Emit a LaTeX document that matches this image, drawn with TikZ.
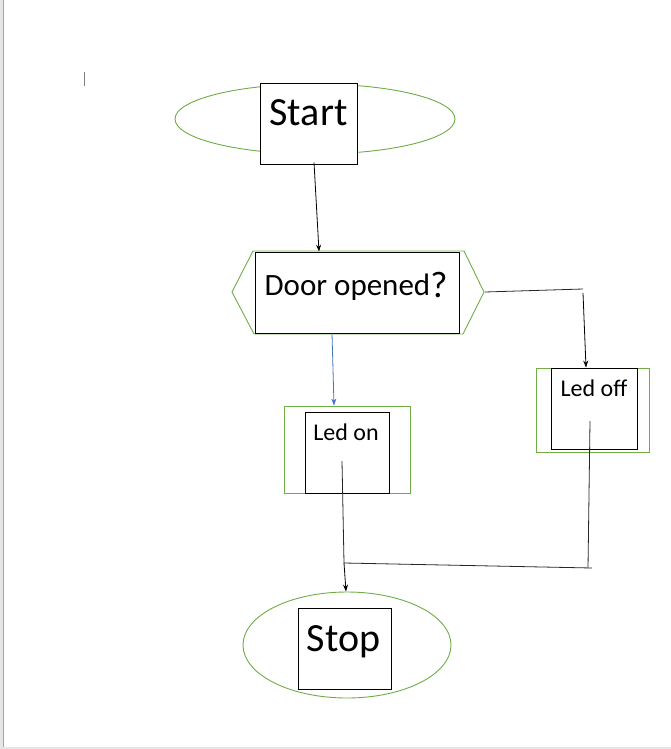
\documentclass[tikz,border=0pt]{standalone}
\usepackage{fontspec}
\setmainfont{Carlito}
\usetikzlibrary{shapes.geometric,arrows.meta}
\definecolor{ogreen}{HTML}{70AD47}
\definecolor{oblue}{HTML}{4472C4}
\definecolor{edge}{gray}{.9}

\begin{document}
\begin{tikzpicture}[x=1pt,y=-1pt]
\tikzset{
 box/.style={draw=black, line width=0.85pt, fill=white, inner sep=0pt},
 oval/.style={ellipse, draw=ogreen, line width=0.9pt, fill=white, inner sep=0pt},
 frame/.style={draw=ogreen, line width=0.9pt, inner sep=0pt},
 big/.style={font=\fontsize{40}{48}\selectfont, anchor=base, inner sep=0pt},
 mid/.style={font=\fontsize{31}{37}\selectfont, anchor=base, inner sep=0pt},
 small/.style={font=\fontsize{24}{29}\selectfont, anchor=base, inner sep=0pt},
 link/.style={line width=0.8pt, -{Stealth[length=7pt,width=5pt]}},
 wire/.style={line width=0.8pt, black!85}
}
\useasboundingbox (0,0) rectangle (671,749);
% page edge
\fill[edge] (0,0) rectangle (3,749);
\draw[gray!70, line width=0.8pt] (3.5,0) -- (3.5,749);
\fill[edge] (0,747) rectangle (671,749);
\draw[gray, line width=0.8pt] (84,72) -- (84,86);
% start
\node[oval, minimum width=280, minimum height=70] (startov) at (315,119) {};
\node[box, minimum width=97, minimum height=81] (start) at (308.5,123.5) {};
\node[big] (starttxt) at (308.5,125) {Start};
% decision
\draw[ogreen, line width=0.9pt] (253,251) -- (464,251) -- (484,292) -- (463,334) -- (254,334) -- (232,292) -- cycle;
\coordinate (hexR) at (485,292);
\node[box, minimum width=204, minimum height=81] (door) at (357,292.5) {};
\node[mid] (doortxt) at (356,295) {Door opened\raisebox{-2pt}{\fontsize{37}{40}\selectfont ?}};
\draw[link] ([shift={(5.5,-2)}]start.south) -- ([xshift=-38]door.north);
% led on
\node[frame, minimum width=126, minimum height=87] (ledonfr) at (347,449.5) {};
\node[box, minimum width=84, minimum height=81] (ledon) at (347,452.5) {};
\node[small] (ledontxt) at (346,440) {Led on};
\draw[link, oblue] ([xshift=-25]door.south) -- ([xshift=-13]ledonfr.north);
% led off
\node[frame, minimum width=113, minimum height=84] (ledofffr) at (592.5,410) {};
\node[box, minimum width=86, minimum height=81] (ledoff) at (594,408.5) {};
\node[small] (ledofftxt) at (594,396) {Led off};
\coordinate (turnR) at (583,289);
\draw[wire] (hexR) -- (turnR);
\draw[link] ([yshift=-4]turnR) -- ([xshift=-8]ledoff.north);
% stop
\node[oval, minimum width=208, minimum height=106] (stopov) at (347,645) {};
\node[box, minimum width=93, minimum height=81] (stop) at (344.5,648.5) {};
\node[big] (stoptxt) at (343.5,651) {Stop};
% join
\coordinate (ledonin) at (342,461);
\coordinate (ledoffin) at (590,421);
\coordinate (joinL) at (344,563);
\coordinate (joinR) at (592,568);
\draw[wire] (ledonin) -- (joinL) -- (joinR);
\draw[wire] (ledoffin) -- ([xshift=-4]joinR);
\draw[link] (joinL) -- ([xshift=-1]stopov.north);
\end{tikzpicture}
\end{document}
